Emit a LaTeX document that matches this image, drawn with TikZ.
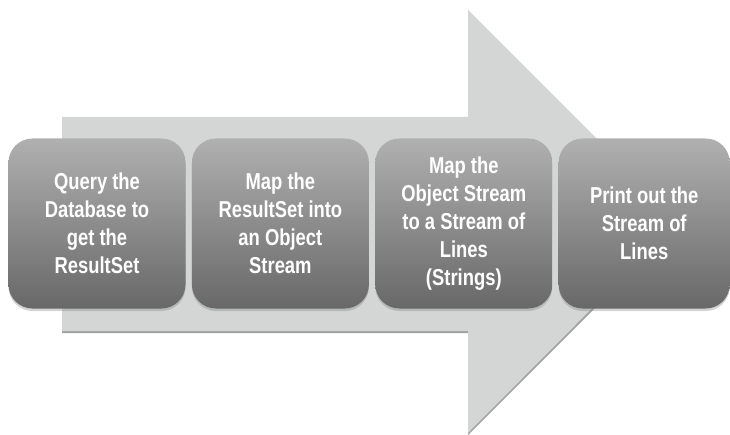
\documentclass[tikz,border=0pt]{standalone}
\usepackage{fontspec}
\setmainfont{Liberation Sans}[FakeStretch=0.8]
\usepackage{tikz}
\usetikzlibrary{positioning,shadows}

\definecolor{arrowgray}{RGB}{212,214,214}
\definecolor{arrowedge}{RGB}{160,162,162}
\definecolor{boxtop}{RGB}{176,176,176}
\definecolor{boxbottom}{RGB}{104,104,104}

\begin{document}
\begin{tikzpicture}[x=1pt,y=-1pt,
                    stage/.style={rounded corners=24pt,inner sep=0pt,
                                  minimum width=177pt,minimum height=170pt,
                                  top color=boxtop,bottom color=boxbottom,
                                  text=white,align=center,
                                  font=\fontsize{23}{28}\selectfont\bfseries,
                                  drop shadow={shadow xshift=0pt,shadow yshift=-2.5pt,opacity=0.35}},
                    node distance=6pt]
  \useasboundingbox (0,0) rectangle (730,435);

  % Background arrow
  \fill[arrowedge] (62,119) -- (468,119) -- (468,12) -- (680,223)
    -- (468,435) -- (468,333) -- (62,333) -- cycle;
  \fill[arrowgray] (62,117) -- (468,117) -- (468,10) -- (679,221)
    -- (468,433) -- (468,331) -- (62,331) -- cycle;

  \node[stage] (query) at (97,223.5) {Query the\\Database to\\get the\\ResultSet};
  \node[stage,right=of query] (mapobj) {Map the\\ResultSet into\\an Object\\Stream};
  \node[stage,right=of mapobj] (maplines) {Map the\\Object Stream\\to a Stream of\\Lines\\(Strings)};
  \node[stage,right=of maplines,minimum width=171pt] (printout) {Print out the\\Stream of\\Lines};
\end{tikzpicture}
\end{document}
